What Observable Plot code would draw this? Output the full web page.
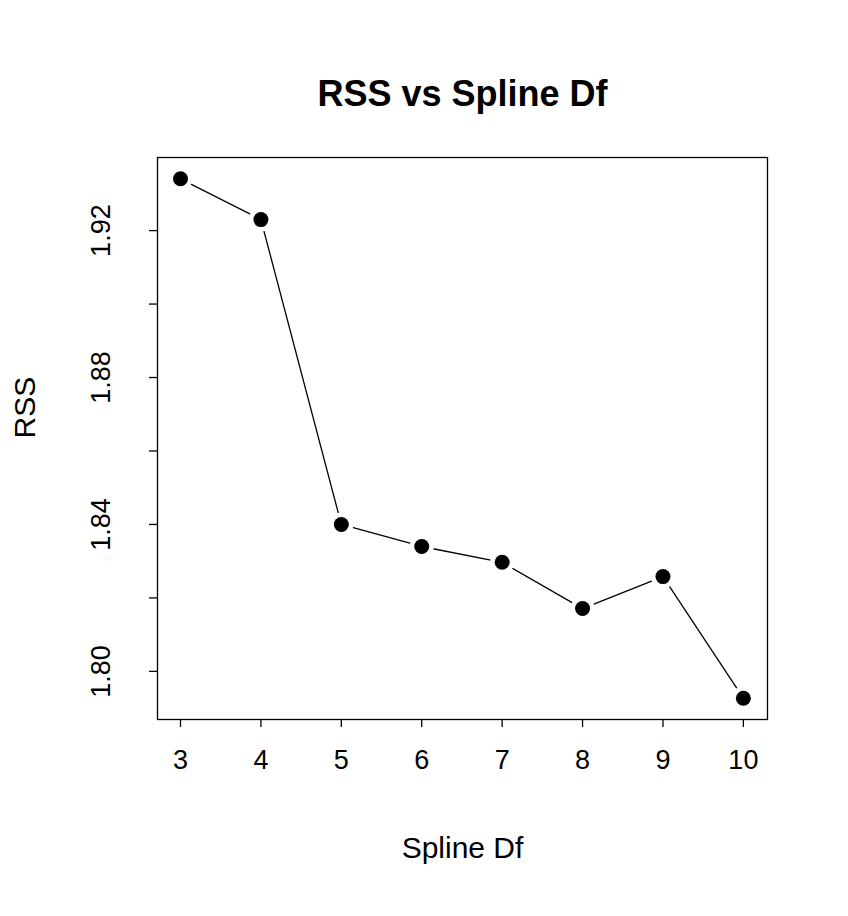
<!DOCTYPE html>
<html>
<head>
<meta charset="utf-8">
<script src="https://cdn.jsdelivr.net/npm/d3@7"></script>
<script src="https://cdn.jsdelivr.net/npm/@observablehq/plot@0.6"></script>
<style>
  body { margin: 0; background: #fff; }
</style>
</head>
<body>
<div id="chart"></div>
<script>
const splineDf = [3, 4, 5, 6, 7, 8, 9, 10];
const rss = [1.9341, 1.923, 1.840, 1.834, 1.8297, 1.8171, 1.8258, 1.7927];
const yTicks = [1.80, 1.82, 1.84, 1.86, 1.88, 1.90, 1.92];
const yLabels = [1.80, 1.84, 1.88, 1.92];

const data = splineDf.map((df, i) => ({df, rss: rss[i]}));
const font = "Liberation Sans, Arial, sans-serif";

const chart = Plot.plot({
  width: 848,
  height: 916,
  marginLeft: 157,
  marginRight: 81,
  marginTop: 157,
  marginBottom: 197,
  style: {fontFamily: font, fontSize: "27px", color: "black", background: "white"},
  x: {domain: [2.714, 10.3]},
  y: {domain: [1.7869, 1.9399]},
  marks: [
    Plot.frame({stroke: "black", strokeWidth: 1.3}),
    Plot.axisX(splineDf, {
      tickSize: 8, tickPadding: 22, fontSize: 27, label: null, strokeWidth: 1.3
    }),
    Plot.axisY(yTicks, {tickSize: 8, tickFormat: () => "", label: null, strokeWidth: 1.3}),
    Plot.axisY(yLabels, {
      tickSize: 0, tickPadding: 48, tickRotate: -90, fontSize: 27,
      tickFormat: d3.format(".2f"), label: null
    }),
    Plot.line(data, {x: "df", y: "rss", stroke: "black", strokeWidth: 1.3}),
    Plot.dot(data, {x: "df", y: "rss", r: 12, fill: "white"}),
    Plot.dot(data, {x: "df", y: "rss", r: 7.5, fill: "black"}),
    Plot.text(["RSS vs Spline Df"], {
      frameAnchor: "top", dy: -77, fontSize: 36, fontWeight: "bold"
    }),
    Plot.text(["Spline Df"], {
      frameAnchor: "bottom", dy: 138, fontSize: 30
    }),
    Plot.text(["RSS"], {
      frameAnchor: "left", dx: -132, rotate: -90, fontSize: 30
    })
  ]
});
document.getElementById("chart").append(chart);
</script>
</body>
</html>
